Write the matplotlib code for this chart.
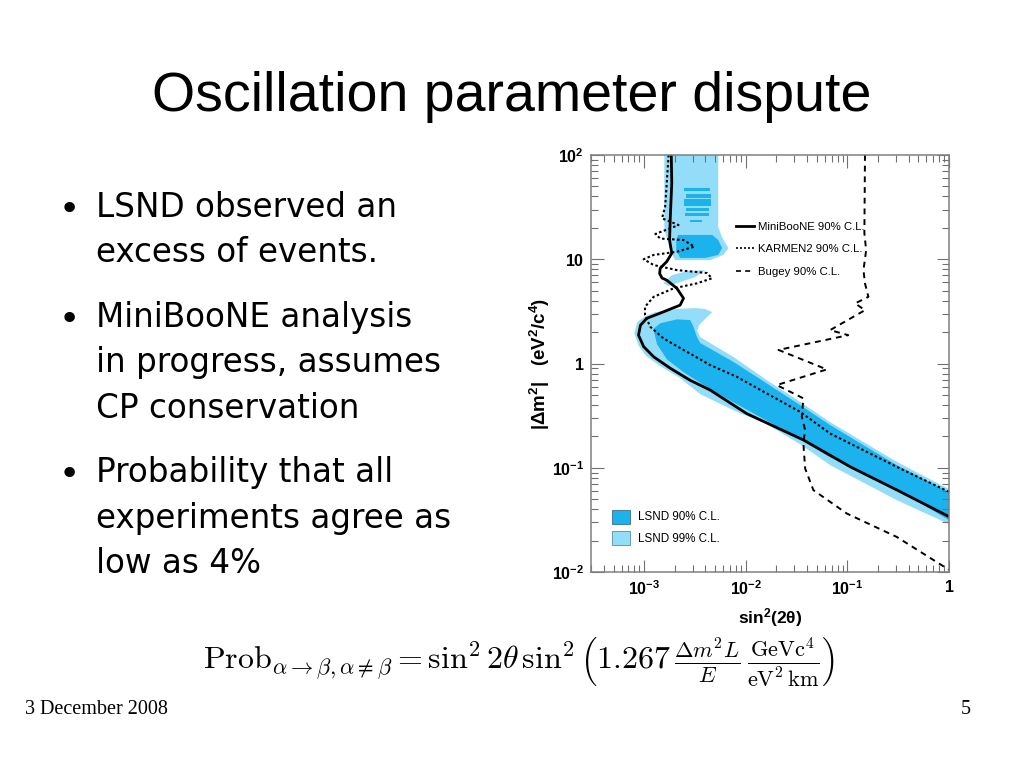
import numpy as np
import matplotlib
matplotlib.use("Agg")
import matplotlib.pyplot as plt
from matplotlib.lines import Line2D
from matplotlib.patches import Patch
from matplotlib.ticker import FixedLocator, FixedFormatter, NullFormatter

plt.rcParams['font.family'] = ['Liberation Sans', 'DejaVu Sans']
plt.rcParams['mathtext.fontset'] = 'custom'
plt.rcParams['mathtext.rm'] = 'Liberation Sans'
plt.rcParams['mathtext.bf'] = 'Liberation Sans:bold'
plt.rcParams['mathtext.it'] = 'Liberation Sans:italic'

# ---- data ----
# MiniBooNE 90% C.L. limit
mb_x = [1.85e-3, 1.87e-3, 1.81e-3, 1.78e-3, 1.87e-3, 1.67e-3, 1.44e-3, 1.42e-3,
        1.50e-3, 1.67e-3, 2.10e-3, 2.44e-3, 2.26e-3, 1.55e-3, 1.06e-3, 9.2e-4,
        8.8e-4, 9.9e-4, 1.24e-3, 1.81e-3, 2.84e-3, 4.47e-3, 1.02e-2, 3.72e-2,
        0.107, 0.309, 1.0]
mb_y = [100, 53.5, 25.6, 15.3, 11.4, 9.5, 8.2, 7.3,
        6.6, 6.3, 5.26, 4.22, 3.63, 3.13, 2.71, 2.33,
        1.87, 1.45, 1.16, 0.90, 0.69, 0.556, 0.331, 0.184,
        0.102, 0.061, 0.034]

# KARMEN2 90% C.L. limit
km_x = [1.74e-3, 1.67e-3, 1.61e-3, 1.50e-3, 2.18e-3, 1.81e-3, 1.29e-3, 1.44e-3,
        2.44e-3, 3.12e-3, 2.10e-3, 1.24e-3, 9.9e-4, 1.24e-3, 2.10e-3, 4.15e-3,
        4.65e-3, 3.30e-3, 1.95e-3, 1.24e-3, 1.02e-3, 1.02e-3, 1.15e-3, 1.55e-3,
        2.44e-3, 4.47e-3, 8.17e-3, 1.61e-2, 3.43e-2, 6.76e-2, 0.306, 1.0]
km_y = [100, 53.8, 31.9, 24.7, 21.3, 19.8, 17.5, 15.8,
        15.3, 13.2, 11.8, 11.0, 10.0, 8.8, 7.87, 7.38,
        6.56, 5.87, 5.26, 4.36, 3.5, 2.91, 2.25, 1.74,
        1.35, 0.966, 0.745, 0.516, 0.344, 0.213, 0.102, 0.0587]

# Bugey 90% C.L. limit
bg_x = [0.149, 0.147, 0.153, 0.144, 0.149, 0.161, 0.119, 0.149,
        0.0676, 0.102, 0.021, 0.0627, 0.0202, 0.0369, 0.0356, 0.0384,
        0.0369, 0.0384, 0.0463, 0.0986, 0.306, 1.0]
bg_y = [100, 17.8, 12.2, 7.87, 5.87, 4.36, 3.77, 3.25,
        2.09, 1.87, 1.35, 0.877, 0.621, 0.463, 0.308, 0.23,
        0.171, 0.0984, 0.061, 0.0364, 0.0217, 0.0105]

# LSND 99% C.L. regions (outlines)
l99_band_x = [8.0e-4, 8.55e-4, 1.03e-3, 1.29e-3, 2.02e-3, 3.18e-3, 3.99e-3, 4.68e-3,
              4.17e-3, 3.48e-3, 3.33e-3, 3.57e-3, 7.52e-3, 1.61e-2, 3.43e-2, 6.76e-2,
              0.306, 1.0, 1.0, 0.306, 6.76e-2, 3.43e-2, 1.61e-2, 7.52e-3,
              3.57e-3, 2.26e-3, 1.44e-3, 1.05e-3, 8.75e-4]
l99_band_y = [1.96, 2.50, 2.85, 3.11, 3.33, 3.40, 3.33, 3.11,
              2.79, 2.34, 2.05, 1.79, 1.16, 0.693, 0.429, 0.274,
              0.114, 0.0624, 0.0288, 0.0489, 0.106, 0.168, 0.262, 0.357,
              0.508, 0.724, 0.944, 1.18, 1.50]
l99_top_x = [1.58e-3, 1.58e-3, 1.69e-3, 1.81e-3, 2.02e-3, 4.47e-3, 6.0e-3, 6.76e-3,
             5.82e-3, 5.36e-3, 5.36e-3]
l99_top_y = [100, 19.1, 15.3, 12.2, 9.8, 9.8, 11.0, 12.7,
             16.4, 20.4, 100]
l99_isl_x = [1.54e-3, 1.89e-3, 2.71e-3, 3.99e-3, 3.18e-3, 2.26e-3, 1.73e-3]
l99_isl_y = [5.92, 7.05, 7.71, 7.87, 6.74, 6.04, 5.53]

# LSND 90% C.L. regions
l90_band_x = [1.23e-3, 1.44e-3, 2.10e-3, 2.84e-3, 3.04e-3, 3.30e-3, 3.57e-3, 7.52e-3,
              1.61e-2, 3.43e-2, 6.76e-2, 0.306, 1.0, 1.0, 0.306, 6.76e-2,
              3.43e-2, 8.17e-3, 4.47e-3, 2.44e-3, 1.67e-3, 1.34e-3, 1.24e-3]
l90_band_y = [2.14, 2.43, 2.65, 2.61, 2.29, 1.80, 1.57, 1.04,
              0.644, 0.399, 0.257, 0.106, 0.0584, 0.0314, 0.0624, 0.126,
              0.188, 0.407, 0.567, 0.826, 1.10, 1.53, 2.09]
l90_blob_x = [2.16e-3, 4.68e-3, 5.36e-3, 5.86e-3, 5.36e-3, 3.99e-3, 2.26e-3, 2.07e-3, 2.07e-3]
l90_blob_y = [17.1, 17.1, 15.3, 12.8, 11.0, 10.3, 10.3, 12.2, 15.3]
# thin 90% islands at high dm2: (x_lo, x_hi, y_lo, y_hi)
l90_stripes = [(2.44e-3, 4.4e-3, 45.4, 48.3),
               (2.6e-3, 4.5e-3, 39.1, 42.3),
               (2.44e-3, 4.6e-3, 32.4, 37.8),
               (2.6e-3, 4.3e-3, 29.0, 31.0),
               (2.55e-3, 4.3e-3, 26.0, 27.7),
               (2.85e-3, 3.7e-3, 23.0, 24.0)]

x_ticks = [1e-3, 1e-2, 1e-1, 1]
x_labels = [r'$\mathbf{10^{-3}}$', r'$\mathbf{10^{-2}}$', r'$\mathbf{10^{-1}}$', r'$\mathbf{1}$']
y_ticks = [1e-2, 1e-1, 1, 10, 100]
y_labels = [r'$\mathbf{10^{-2}}$', r'$\mathbf{10^{-1}}$', r'$\mathbf{1}$', r'$\mathbf{10}$', r'$\mathbf{10^{2}}$']

bullets = [["LSND observed an", "excess of events."],
           ["MiniBooNE analysis", "in progress, assumes", "CP conservation"],
           ["Probability that all", "experiments agree as", "low as 4%"]]

DARK = '#1cb2ee'
LIGHT = '#94ddf8'

W, H = 1023, 767


def fx(px):
    return px / W


def fy(py):
    return 1 - py / H


fig = plt.figure(figsize=(W / 100, H / 100), dpi=100)

# slide title
fig.text(fx(512), fy(97), "Oscillation parameter dispute", fontsize=40,
         ha='center', va='center')

# bullet list (wider face than the title, as on the slide)
baselines = [[216.7, 261.7], [326.7, 372.3, 418.3], [481.7, 528.3, 573.3]]
for lines, ys in zip(bullets, baselines):
    fig.text(fx(69), fy(ys[0] + 3), u"\u2022", fontsize=26, ha='center',
             va='baseline', family=['DejaVu Sans'])
    for txt, y in zip(lines, ys):
        fig.text(fx(96), fy(y), txt, fontsize=23.5, ha='left', va='baseline',
                 family=['DejaVu Sans'])

# formula
fig.text(fx(203), fy(663),
         r'$\mathrm{Prob}_{\alpha\to\beta,\alpha\neq\beta} = \sin^2 2\theta\,\sin^2'
         r'\left(1.267\,\frac{\Delta m^2 L}{E}\,\frac{\mathrm{GeV c}^4}'
         r'{\mathrm{eV}^2\,\mathrm{km}}\right)$',
         fontsize=23, ha='left', va='center', math_fontfamily='cm')

# footer
fig.text(fx(25), fy(710), "3 December 2008", fontsize=14.5,
         family=['Liberation Serif'], ha='left', va='center')
fig.text(fx(966), fy(710), "5", fontsize=14.5, family=['Liberation Serif'],
         ha='center', va='center')

# exclusion plot
ax = fig.add_axes([fx(591), fy(572), fx(949) - fx(591), fy(155) - fy(572)])
ax.set_xscale('log')
ax.set_yscale('log')

ax.fill(l99_band_x, l99_band_y, color=LIGHT, lw=0)
ax.fill(l99_top_x, l99_top_y, color=LIGHT, lw=0)
ax.fill(l99_isl_x, l99_isl_y, color=LIGHT, lw=0)
ax.fill(l90_band_x, l90_band_y, color=DARK, lw=0)
ax.fill(l90_blob_x, l90_blob_y, color=DARK, lw=0)
for x0, x1, y0, y1 in l90_stripes:
    ax.fill([x0, x1, x1, x0], [y0, y0, y1, y1], color=DARK, lw=0)

ax.plot(km_x, km_y, color='black', lw=1.5, ls=(0, (1.2, 1.2)))
ax.plot(bg_x, bg_y, color='black', lw=1.4, ls=(0, (3, 2.5)))
ax.plot(mb_x, mb_y, color='black', lw=2.0)

ax.set_xlim(3e-4, 1)
ax.set_ylim(1e-2, 100)

ax.xaxis.set_major_locator(FixedLocator(x_ticks))
ax.xaxis.set_major_formatter(FixedFormatter(x_labels))
ax.yaxis.set_major_locator(FixedLocator(y_ticks))
ax.yaxis.set_major_formatter(FixedFormatter(y_labels))
ax.xaxis.set_minor_formatter(NullFormatter())
ax.yaxis.set_minor_formatter(NullFormatter())
ax.tick_params(which='both', direction='in', top=True, right=True,
               color='#707070', width=0.8, labelsize=11.5)
ax.tick_params(which='major', length=9, pad=5)
ax.tick_params(which='minor', length=5)
for s in ax.spines.values():
    s.set_color('#808080')
    s.set_linewidth(1.1)

ax.set_xlabel(r'$\mathbf{sin^2(2\theta)}$', fontsize=12.5, labelpad=6)
ax.set_ylabel(r'$\mathbf{|\Delta m^2|\ \ \ (eV^2/c^4)}$', fontsize=13.5, labelpad=0)

line_handles = [Line2D([], [], color='black', lw=2.0),
                Line2D([], [], color='black', lw=1.2, ls=(0, (1.2, 1.2))),
                Line2D([], [], color='black', lw=1.2, ls=(0, (3, 2.5)))]
leg1 = ax.legend(line_handles, ["MiniBooNE 90% C.L.", "KARMEN2 90% C.L.", "Bugey 90% C.L."],
                 loc='upper left', bbox_to_anchor=(0.375, 0.865), frameon=False,
                 fontsize=8.2, handlelength=1.6, handletextpad=0.35, labelspacing=1.1)
ax.add_artist(leg1)
patch_handles = [Patch(facecolor=DARK, edgecolor='#3a6f8a', lw=0.6),
                 Patch(facecolor=LIGHT, edgecolor='#5a8aa0', lw=0.6)]
ax.legend(patch_handles, ["LSND 90% C.L.", "LSND 99% C.L."], loc='upper left',
          bbox_to_anchor=(0.03, 0.175), frameon=False, fontsize=8.4,
          handlelength=1.5, handleheight=1.5, handletextpad=0.7, labelspacing=0.6)

fig.savefig("out.png", dpi=100)
